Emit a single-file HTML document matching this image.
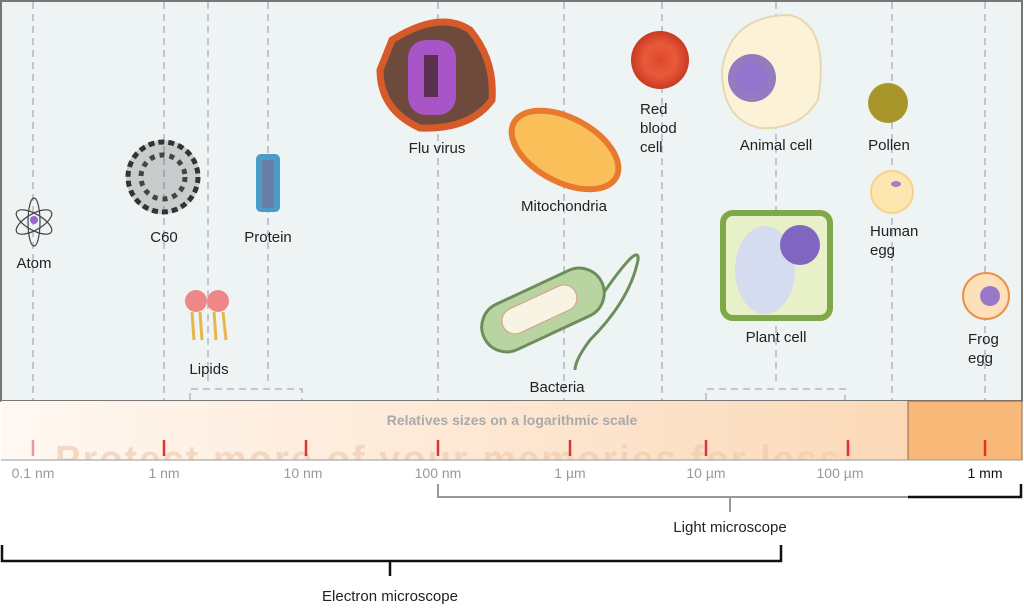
<!DOCTYPE html>
<html><head><style>
body{margin:0;width:1024px;height:606px;background:#fff;overflow:hidden;font-family:"Liberation Sans",sans-serif}
svg text{font-family:"Liberation Sans",sans-serif}
</style></head><body>
<svg width="1024" height="606" viewBox="0 0 1024 606" xmlns="http://www.w3.org/2000/svg">
<defs>
<linearGradient id="band" x1="0" x2="1"><stop offset="0" stop-color="#fff8f2"/><stop offset="1" stop-color="#fbd9b8"/></linearGradient>
<radialGradient id="rbc"><stop offset="0" stop-color="#e0472c"/><stop offset=".55" stop-color="#e85a3b"/><stop offset="1" stop-color="#c93a22"/></radialGradient>
<clipPath id="bc"><rect x="0" y="401" width="1024" height="59"/></clipPath>
</defs>
<rect x="1" y="1" width="1021" height="400" fill="#eef4f4" stroke="#777" stroke-width="2"/>
<g stroke="#aab" stroke-width="1.3" stroke-dasharray="7,5">
<line x1="33" y1="2" x2="33" y2="400"/><line x1="164" y1="2" x2="164" y2="400"/><line x1="208" y1="2" x2="208" y2="385"/><line x1="268" y1="2" x2="268" y2="385"/><line x1="438" y1="2" x2="438" y2="400"/><line x1="564" y1="2" x2="564" y2="400"/><line x1="662" y1="2" x2="662" y2="400"/><line x1="776" y1="2" x2="776" y2="385"/><line x1="892" y1="2" x2="892" y2="400"/><line x1="985" y1="2" x2="985" y2="400"/>
<path d="M190 400 V389 H302 V400 M706 400 V389 H845 V400" fill="none"/>
</g>
<rect x="1" y="401" width="907" height="59" fill="url(#band)"/>
<rect x="908" y="401" width="114" height="59" fill="#f8b878" stroke="#8a6a50"/>
<text x="512" y="425" font-size="14" font-weight="bold" fill="#aaa" text-anchor="middle">Relatives sizes on a logarithmic scale</text>
<text x="55" y="472" font-size="38" font-weight="bold" fill="#efcdb2" opacity=".7" clip-path="url(#bc)" textLength="800">Protect more of your memories for less!</text>
<line x1="1" y1="460" x2="1022" y2="460" stroke="#999"/>
<g stroke="#d33" stroke-width="2.5"><line x1="33" y1="440" x2="33" y2="456" stroke="#e99"/><line x1="164" y1="440" x2="164" y2="456"/><line x1="306" y1="440" x2="306" y2="456"/><line x1="438" y1="440" x2="438" y2="456"/><line x1="570" y1="440" x2="570" y2="456"/><line x1="706" y1="440" x2="706" y2="456"/><line x1="848" y1="440" x2="848" y2="456"/><line x1="985" y1="440" x2="985" y2="456"/></g>
<g font-size="14" fill="#999" text-anchor="middle"><text x="33" y="478">0.1 nm</text><text x="164" y="478">1 nm</text><text x="303" y="478">10 nm</text><text x="438" y="478">100 nm</text><text x="570" y="478">1 µm</text><text x="706" y="478">10 µm</text><text x="840" y="478">100 µm</text><text x="985" y="478" fill="#111">1 mm</text></g>
<path d="M438 484 V497 H908" fill="none" stroke="#999" stroke-width="2"/>
<path d="M908 497 H1021 V484" fill="none" stroke="#111" stroke-width="2.5"/>
<line x1="730" y1="497" x2="730" y2="512" stroke="#999" stroke-width="2"/>
<text x="730" y="532" font-size="15" fill="#222" text-anchor="middle">Light microscope</text>
<path d="M2 545 V561 H781 V545 M390 561 V576" fill="none" stroke="#111" stroke-width="2.5"/>
<text x="390" y="601" font-size="15" fill="#222" text-anchor="middle">Electron microscope</text>
<g fill="none" stroke="#444" stroke-width="1.2"><ellipse cx="34" cy="222" rx="20" ry="8" transform="rotate(30 34 222)"/><ellipse cx="34" cy="222" rx="20" ry="8" transform="rotate(-30 34 222)"/><ellipse cx="34" cy="222" rx="6" ry="24"/></g><circle cx="34" cy="220" r="4" fill="#96c"/>
<circle cx="163" cy="177" r="37" fill="#555" opacity=".25"/><circle cx="163" cy="177" r="35" fill="none" stroke="#333" stroke-width="5" stroke-dasharray="6,4"/><circle cx="163" cy="177" r="22" fill="none" stroke="#444" stroke-width="5" stroke-dasharray="5,5"/>
<rect x="256" y="154" width="24" height="58" rx="5" fill="#4a9cc8"/><rect x="262" y="160" width="12" height="48" fill="#6a7fa8"/>
<circle cx="196" cy="301" r="11" fill="#e88"/><circle cx="218" cy="301" r="11" fill="#e88"/>
<g stroke="#e8b64a" stroke-width="3"><line x1="192" y1="312" x2="194" y2="340"/><line x1="200" y1="312" x2="202" y2="340"/><line x1="214" y1="312" x2="216" y2="340"/><line x1="223" y1="312" x2="226" y2="340"/></g>
<path d="M392 40 Q440 10 470 30 Q495 60 492 100 Q470 130 420 128 Q380 110 380 70 Z" fill="#6e4a3c" stroke="#d65a2a" stroke-width="7"/><rect x="408" y="40" width="48" height="75" rx="18" fill="#a855c8"/><rect x="424" y="55" width="14" height="42" fill="#5a3050"/>
<ellipse cx="565" cy="150" rx="58" ry="32" transform="rotate(28 565 150)" fill="#fbbf5a" stroke="#e87a30" stroke-width="6"/>
<circle cx="660" cy="60" r="29" fill="url(#rbc)"/>
<path d="M722 70 Q730 15 790 15 Q830 25 818 100 Q800 130 760 128 Q722 120 722 70 Z" fill="#fbf2d8" stroke="#e8d8b0" stroke-width="2"/><circle cx="752" cy="78" r="24" fill="#7a5db8" opacity=".8"/><circle cx="752" cy="78" r="16" fill="#9574d0"/>
<circle cx="888" cy="103" r="20" fill="#a9962a"/>
<circle cx="892" cy="192" r="21" fill="#fde6b0" stroke="#f7d288" stroke-width="2"/><ellipse cx="896" cy="184" rx="5" ry="3" fill="#a67ac8"/>
<rect x="723" y="213" width="107" height="105" rx="10" fill="#e8f0c8" stroke="#7fa848" stroke-width="6"/><ellipse cx="765" cy="270" rx="30" ry="44" fill="#d6dcf0"/><circle cx="800" cy="245" r="20" fill="#8066c0"/>
<circle cx="986" cy="296" r="23" fill="#fde0b8" stroke="#e8914a" stroke-width="2"/><circle cx="990" cy="296" r="10" fill="#9a78c8"/>
<path d="M600 298 Q640 240 638 260 Q630 300 590 340 Q575 360 575 370" fill="none" stroke="#6b8e5a" stroke-width="3"/>
<rect x="478" y="285" width="130" height="50" rx="25" transform="rotate(-25 543 310)" fill="#b9d4a0" stroke="#6b8e5a" stroke-width="3"/><rect x="500" y="295" width="80" height="26" rx="13" transform="rotate(-25 543 310)" fill="#f8f4e4" stroke="#d98"/>
<g font-size="15" fill="#222"><text x="34" y="268" text-anchor="middle">Atom</text><text x="164" y="242" text-anchor="middle">C60</text><text x="268" y="242" text-anchor="middle">Protein</text><text x="209" y="374" text-anchor="middle">Lipids</text><text x="437" y="153" text-anchor="middle">Flu virus</text><text x="564" y="211" text-anchor="middle">Mitochondria</text><text x="640" y="114">Red</text><text x="640" y="133">blood</text><text x="640" y="152">cell</text><text x="776" y="150" text-anchor="middle">Animal cell</text><text x="889" y="150" text-anchor="middle">Pollen</text><text x="870" y="236">Human</text><text x="870" y="255">egg</text><text x="776" y="342" text-anchor="middle">Plant cell</text><text x="968" y="344">Frog</text><text x="968" y="363">egg</text><text x="557" y="392" text-anchor="middle">Bacteria</text></g>
</svg>
</body></html>
